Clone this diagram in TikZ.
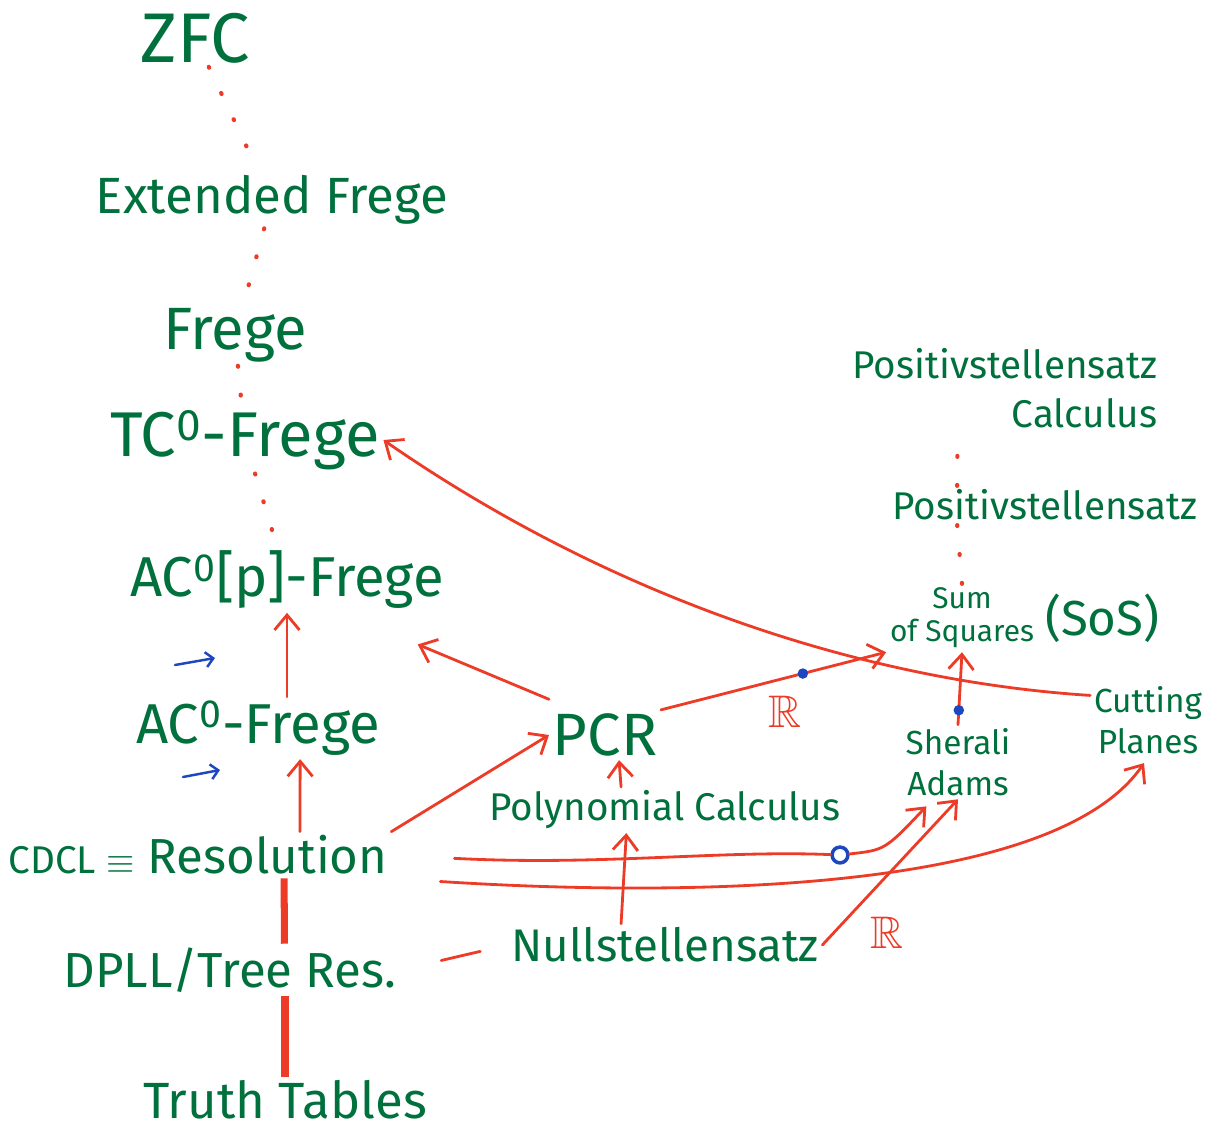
\documentclass[tikz,border=0pt]{standalone}
\usepackage{amssymb}
\usepackage{fontspec}
\setmainfont{Fira Sans}
\setsansfont{Fira Sans}
\usetikzlibrary{arrows.meta,positioning}

\definecolor{pgreen}{RGB}{0,112,60}
\definecolor{pred}{RGB}{236,60,40}
\definecolor{pblue}{RGB}{30,70,190}

\begin{document}
\begin{tikzpicture}[
  x=0.02cm, y=-0.02cm,
  font=\sffamily,
  sys/.style={text=pgreen, font=\fontsize{#1}{#1}\selectfont, align=center, inner sep=2pt},
  sys/.default=28,
  arrow/.style={-{Straight Barb[length=3mm,width=5mm]}, line width=1.6pt, draw=pred, line cap=round},
  line/.style={line width=1.6pt, draw=pred, line cap=round},
  link/.style={line width=4pt, draw=pred},
  dots/.style={draw=pred, line width=2.4pt, line cap=round, dash pattern=on 0.5pt off 16pt},
  blue arrow/.style={-{Straight Barb[length=1.5mm,width=3mm]}, line width=1.4pt, draw=pblue, line cap=round},
  pin/.style={circle, fill=pblue, inner sep=0pt, minimum size=6pt},
  ring/.style={circle, draw=pblue, line width=2pt, inner sep=0pt, minimum size=9pt},
  note/.style={text=pred, font=\fontsize{26}{26}\selectfont}
]
\useasboundingbox (0,0) rectangle (1225,1133);

% left column: Frege systems
\node[sys=40] (zfc) at (195,38) {ZFC};
\node[sys=29] (ef) at (272,200) {Extended Frege};
\node[sys=34] (frege) at (235,335) {Frege};
\node[sys=36] (tc) at (245,440) {TC\textsuperscript{0}-Frege};
\node[sys=32] (acp) at (287,580) {AC\textsuperscript{0}[p]-Frege};
\node[sys=32] (ac) at (258,728) {AC\textsuperscript{0}-Frege};
\node[sys] (res) at (198,855) {{\fontsize{22}{22}\selectfont CDCL $\equiv$} Resolution};
\node[sys] (dpll) at (230,970) {DPLL/Tree Res.};
\node[sys=29] (tt) at (285,1100) {Truth Tables};

% algebraic systems
\node[sys=34] (pcr) at (605,735) {PCR};
\node[sys=22] (pc) at (665,810) {Polynomial Calculus};
\node[sys=26] (ns) at (665,945) {Nullstellensatz};

% semialgebraic systems
\node[sys=22, align=right] (psc) at (1005,388) {Positivstellensatz\\[6pt]Calculus};
\node[sys=22] (ps) at (1045,505) {Positivstellensatz};
\node[sys=17] (sos) at (962,618) {Sum\\[2pt]of Squares};
\node[sys=28, right=2pt of sos] (sosabbr) {(SoS)};
\node[sys=19] (sa) at (958,762) {Sherali\\[4pt]Adams};
\node[sys=19] (cp) at (1148,720) {Cutting\\[4pt]Planes};

% the Frege chain
\draw[dots] (zfc) -- (ef);
\draw[dots] (ef) -- (frege);
\draw[dots] (frege) -- (tc);
\draw[dots] (tc) -- (acp);
\draw[arrow] (ac.north -| acp.south) -- (acp.south);
\draw[arrow] ([xshift=58pt]res.north) -- ([xshift=24pt]ac.south);
\draw[link] ([xshift=31pt]dpll.north) -- ([xshift=49pt]res.south);
\draw[link] (tt.north) -- (dpll.south -| tt.north);
\draw[line, shorten <=24pt, shorten >=16pt] (dpll.east) -- (ns.west);

% blue marks
\coordinate (m1) at (175,665);
\coordinate (m1e) at (215,658);
\coordinate (m2) at (183,777);
\coordinate (m2e) at (220,770);
\draw[blue arrow] (m1) -- (m1e);
\draw[blue arrow] (m2) -- (m2e);

% algebraic
\draw[arrow] (res.north east) -- (pcr.west);
\draw[arrow] ([yshift=6pt]pcr.north west) -- ([xshift=-17pt,yshift=-18pt]acp.south east);
\draw[arrow] ([xshift=-25pt]ns.north) -- ([xshift=-22pt]pc.south);
\draw[arrow] ([xshift=-25pt]pc.north) -- ([xshift=8pt]pcr.south);

% into the semialgebraic side
\draw[arrow] (pcr.north east) -- (sos.south west)
  node[pin, pos=0.63] {}
  node[note, pos=0.55, below=6pt] {$\mathbb{R}$};
\draw[arrow] (sa.north) -- (sos.south) node[pin, pos=0.2] {};
\draw[arrow] (ns.east) -- (sa.south)
  node[note, pos=0.48, below=20pt] {$\mathbb{R}$};
\node[ring] (knot) at (840,855) {};
\draw[line, shorten <=36pt] (res.east) .. controls (600,866) and (720,850) .. (knot);
\draw[arrow] (knot) .. controls (885,850) .. ([xshift=-18pt,yshift=-4pt]sa.south);
\draw[arrow, shorten <=28pt, shorten >=4pt] (res.south east) .. controls (650,895) and (1050,900) .. (cp.south);
\draw[arrow] ([yshift=14pt]cp.west) .. controls (850,680) and (600,590) .. (tc.east);

\draw[dots] (sos.north) -- ([xshift=-50pt]ps.south);
\draw[dots] ([xshift=-50pt]ps.north) -- ([xshift=-27pt]psc.south);

\end{tikzpicture}
\end{document}
